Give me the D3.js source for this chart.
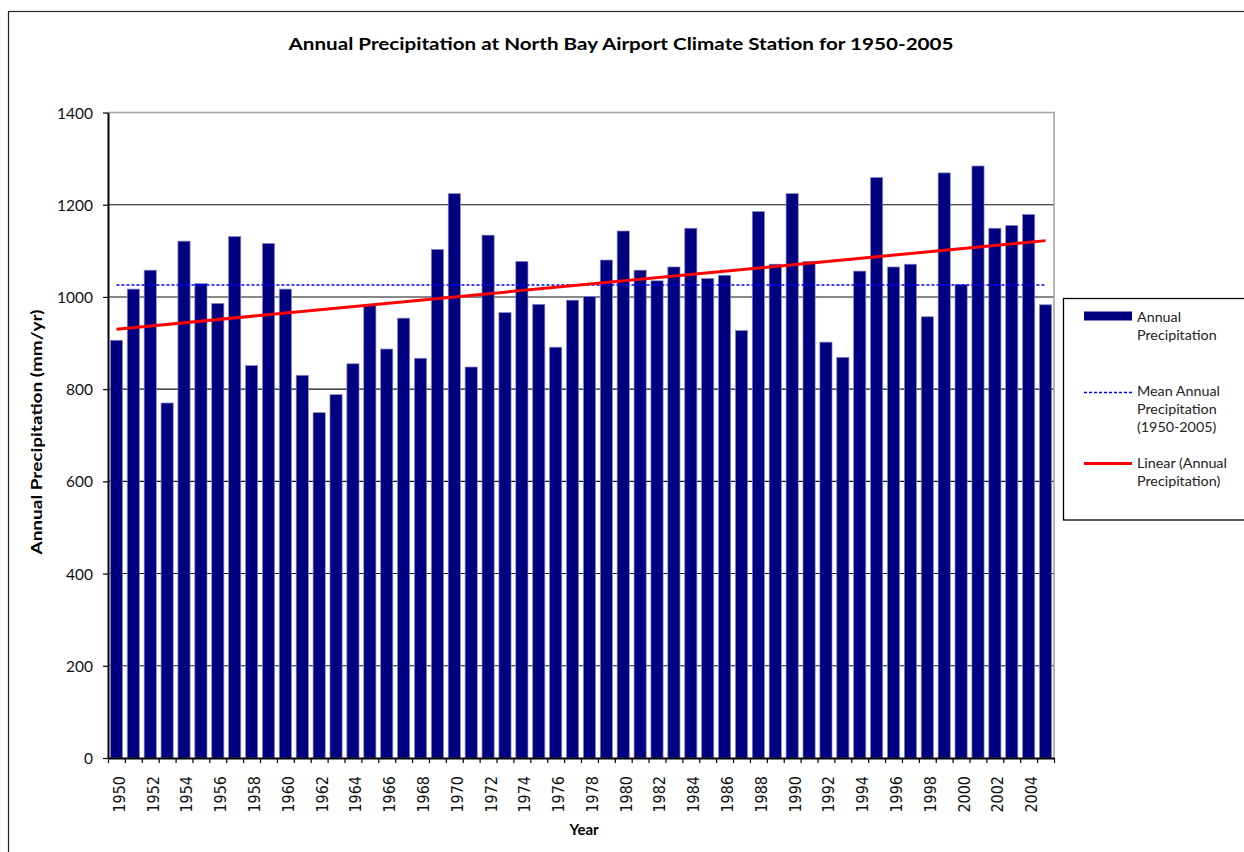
<!DOCTYPE html>
<html>
<head>
<meta charset="utf-8">
<script src="https://cdn.jsdelivr.net/npm/d3@7"></script>
<style>
  html, body { margin: 0; padding: 0; background: #fff; }
  svg { display: block; }
</style>
</head>
<body>
<svg id="chart" width="1244" height="852"></svg>
<script>
// Annual precipitation (mm/yr) at North Bay Airport, 1950-2005
const years = [
  1950, 1951, 1952, 1953, 1954, 1955, 1956, 1957, 1958, 1959,
  1960, 1961, 1962, 1963, 1964, 1965, 1966, 1967, 1968, 1969,
  1970, 1971, 1972, 1973, 1974, 1975, 1976, 1977, 1978, 1979,
  1980, 1981, 1982, 1983, 1984, 1985, 1986, 1987, 1988, 1989,
  1990, 1991, 1992, 1993, 1994, 1995, 1996, 1997, 1998, 1999,
  2000, 2001, 2002, 2003, 2004, 2005
];
const precipitation = [
  906, 1017, 1058, 770, 1121, 1029, 986, 1131, 851, 1116,
  1017, 830, 749, 788, 855, 982, 887, 954, 867, 1103,
  1224, 848, 1134, 966, 1077, 984, 891, 993, 1001, 1080,
  1143, 1058, 1035, 1065, 1149, 1040, 1047, 927, 1185, 1071,
  1224, 1077, 902, 869, 1056, 1259, 1065, 1071, 957, 1269,
  1027, 1284, 1149, 1155, 1179, 983
];
const yTicks = [0, 200, 400, 600, 800, 1000, 1200, 1400];
const xLabelYears = years.filter(yr => yr % 2 === 0);

const titleText = "Annual Precipitation at North Bay Airport Climate Station for 1950-2005";
const yAxisTitle = "Annual Precipitation  (mm/yr)";
const xAxisTitle = "Year";
const legendLabels = [
  ["Annual", "Precipitation"],
  ["Mean Annual", "Precipitation", "(1950-2005)"],
  ["Linear (Annual", "Precipitation)"]
];

const BAR = "#000080";
const MEAN = "#0000ff";
const TREND = "#ff0000";
const SANS = "Lato, 'Open Sans', sans-serif";
const TICKFONT = "'DejaVu Sans', Verdana, sans-serif";

const svg = d3.select("#chart");
const plot = { left: 108, right: 1054, top: 112.5, bottom: 758 };

// outer chart frame
svg.append("rect")
  .attr("x", 8.5).attr("y", 11.5)
  .attr("width", 1260).attr("height", 870)
  .attr("fill", "#fff").attr("stroke", "#222").attr("stroke-width", 1.2);

const x = d3.scaleBand()
  .domain(years)
  .range([plot.left, plot.right])
  .paddingInner(0.28)
  .paddingOuter(0.14);
const y = d3.scaleLinear().domain([0, 1400]).range([plot.bottom, plot.top]);
// category edges for tick marks between bars
const edge = d3.scaleLinear().domain([0, years.length]).range([plot.left, plot.right]);

// gridlines
svg.append("g")
  .selectAll("line")
  .data(yTicks.filter(t => t > 0 && t < 1400))
  .join("line")
  .attr("x1", plot.left).attr("x2", plot.right)
  .attr("y1", d => y(d)).attr("y2", d => y(d))
  .attr("stroke", "#111").attr("stroke-width", 1.1);

// plot area frame (top and right)
svg.append("path")
  .attr("d", `M${plot.left},${y(1400)}H${plot.right}V${plot.bottom}`)
  .attr("fill", "none").attr("stroke", "#a0a0a0").attr("stroke-width", 1.5);

// bars
svg.append("g")
  .selectAll("rect")
  .data(years.map((yr, i) => ({ yr, v: precipitation[i] })))
  .join("rect")
  .attr("x", d => x(d.yr))
  .attr("width", x.bandwidth())
  .attr("y", d => y(d.v))
  .attr("height", d => y(0) - y(d.v))
  .attr("fill", BAR)
  .attr("stroke", "#8a8ac8").attr("stroke-width", 0.7);

// mean line
const mean = d3.mean(precipitation);
const cx = yr => x(yr) + x.bandwidth() / 2;
const first = years[0], last = years[years.length - 1];
svg.append("line")
  .attr("x1", cx(first)).attr("x2", cx(last))
  .attr("y1", y(mean)).attr("y2", y(mean))
  .attr("stroke", MEAN).attr("stroke-width", 1.5)
  .attr("stroke-dasharray", "3,2");

// least-squares trend
const mx = d3.mean(years);
const slope = d3.sum(years, (yr, i) => (yr - mx) * (precipitation[i] - mean)) /
              d3.sum(years, yr => (yr - mx) * (yr - mx));
const trend = yr => mean + slope * (yr - mx);
svg.append("line")
  .attr("x1", cx(first)).attr("x2", cx(last))
  .attr("y1", y(trend(first))).attr("y2", y(trend(last)))
  .attr("stroke", TREND).attr("stroke-width", 3);

// y axis
const yAxis = svg.append("g")
  .attr("transform", `translate(${plot.left},0)`)
  .call(d3.axisLeft(y).tickValues(yTicks).tickFormat(d3.format("d"))
    .tickSize(5).tickSizeOuter(0).tickPadding(10));
yAxis.select(".domain").attr("stroke", "#000").attr("stroke-width", 2);
yAxis.selectAll(".tick line").attr("stroke", "#000").attr("stroke-width", 1.2);
yAxis.selectAll(".tick text")
  .attr("font-family", SANS).attr("font-size", 15.5).attr("fill", "#111")
  .attr("dy", "0.36em");

// x axis: ticks on category boundaries
const xAxis = svg.append("g")
  .attr("transform", `translate(0,${plot.bottom})`)
  .call(d3.axisBottom(edge).tickValues(d3.range(years.length + 1))
    .tickSize(5).tickSizeOuter(0).tickFormat(""));
xAxis.select(".domain").attr("stroke", "#000").attr("stroke-width", 2);
xAxis.selectAll(".tick line").attr("stroke", "#000").attr("stroke-width", 1.2);

// year labels, rotated
svg.append("g")
  .selectAll("text")
  .data(xLabelYears)
  .join("text")
  .attr("transform", d => `translate(${cx(d) + 2.5},${plot.bottom + 18}) rotate(-90)`)
  .attr("text-anchor", "end")
  .attr("dy", "0.36em")
  .attr("font-family", TICKFONT).attr("font-size", 16.5)
  .attr("textLength", 36.5).attr("lengthAdjust", "spacingAndGlyphs")
  .attr("fill", "#111")
  .text(d => d);

// titles
svg.append("text")
  .attr("x", 621).attr("y", 50)
  .attr("text-anchor", "middle")
  .attr("font-family", SANS).attr("font-weight", "bold").attr("font-size", 17)
  .attr("textLength", 665).attr("lengthAdjust", "spacingAndGlyphs")
  .attr("fill", "#000")
  .text(titleText);

svg.append("text")
  .attr("transform", `translate(42,432) rotate(-90)`)
  .attr("text-anchor", "middle")
  .attr("font-family", SANS).attr("font-weight", "bold").attr("font-size", 14.5)
  .attr("textLength", 245).attr("lengthAdjust", "spacingAndGlyphs")
  .attr("fill", "#000")
  .text(yAxisTitle);

svg.append("text")
  .attr("x", 584).attr("y", 835)
  .attr("text-anchor", "middle")
  .attr("font-family", SANS).attr("font-weight", "bold").attr("font-size", 15)
  .attr("fill", "#000")
  .text(xAxisTitle);

// legend
const legend = svg.append("g");
legend.append("rect")
  .attr("x", 1063.5).attr("y", 298.5)
  .attr("width", 220).attr("height", 221.5)
  .attr("fill", "#fff").attr("stroke", "#000").attr("stroke-width", 1.3);

const keyX1 = 1084, keyX2 = 1132, textX = 1137;
legend.append("rect")
  .attr("x", keyX1).attr("y", 311.5).attr("width", keyX2 - keyX1).attr("height", 9)
  .attr("fill", BAR);
legend.append("line")
  .attr("x1", keyX1).attr("x2", keyX2).attr("y1", 392.5).attr("y2", 392.5)
  .attr("stroke", MEAN).attr("stroke-width", 1.3).attr("stroke-dasharray", "3,2");
legend.append("line")
  .attr("x1", keyX1).attr("x2", keyX2).attr("y1", 463.5).attr("y2", 463.5)
  .attr("stroke", TREND).attr("stroke-width", 3);

const legendBaselines = [321.5, 396, 468];
legendLabels.forEach((lines, i) => {
  legend.append("text")
    .attr("x", textX).attr("y", legendBaselines[i])
    .attr("font-family", SANS).attr("font-size", 14.3).attr("fill", "#222")
    .selectAll("tspan")
    .data(lines)
    .join("tspan")
    .attr("x", textX)
    .attr("dy", (d, j) => j === 0 ? 0 : 18.2)
    .text(d => d);
});
</script>
</body>
</html>
